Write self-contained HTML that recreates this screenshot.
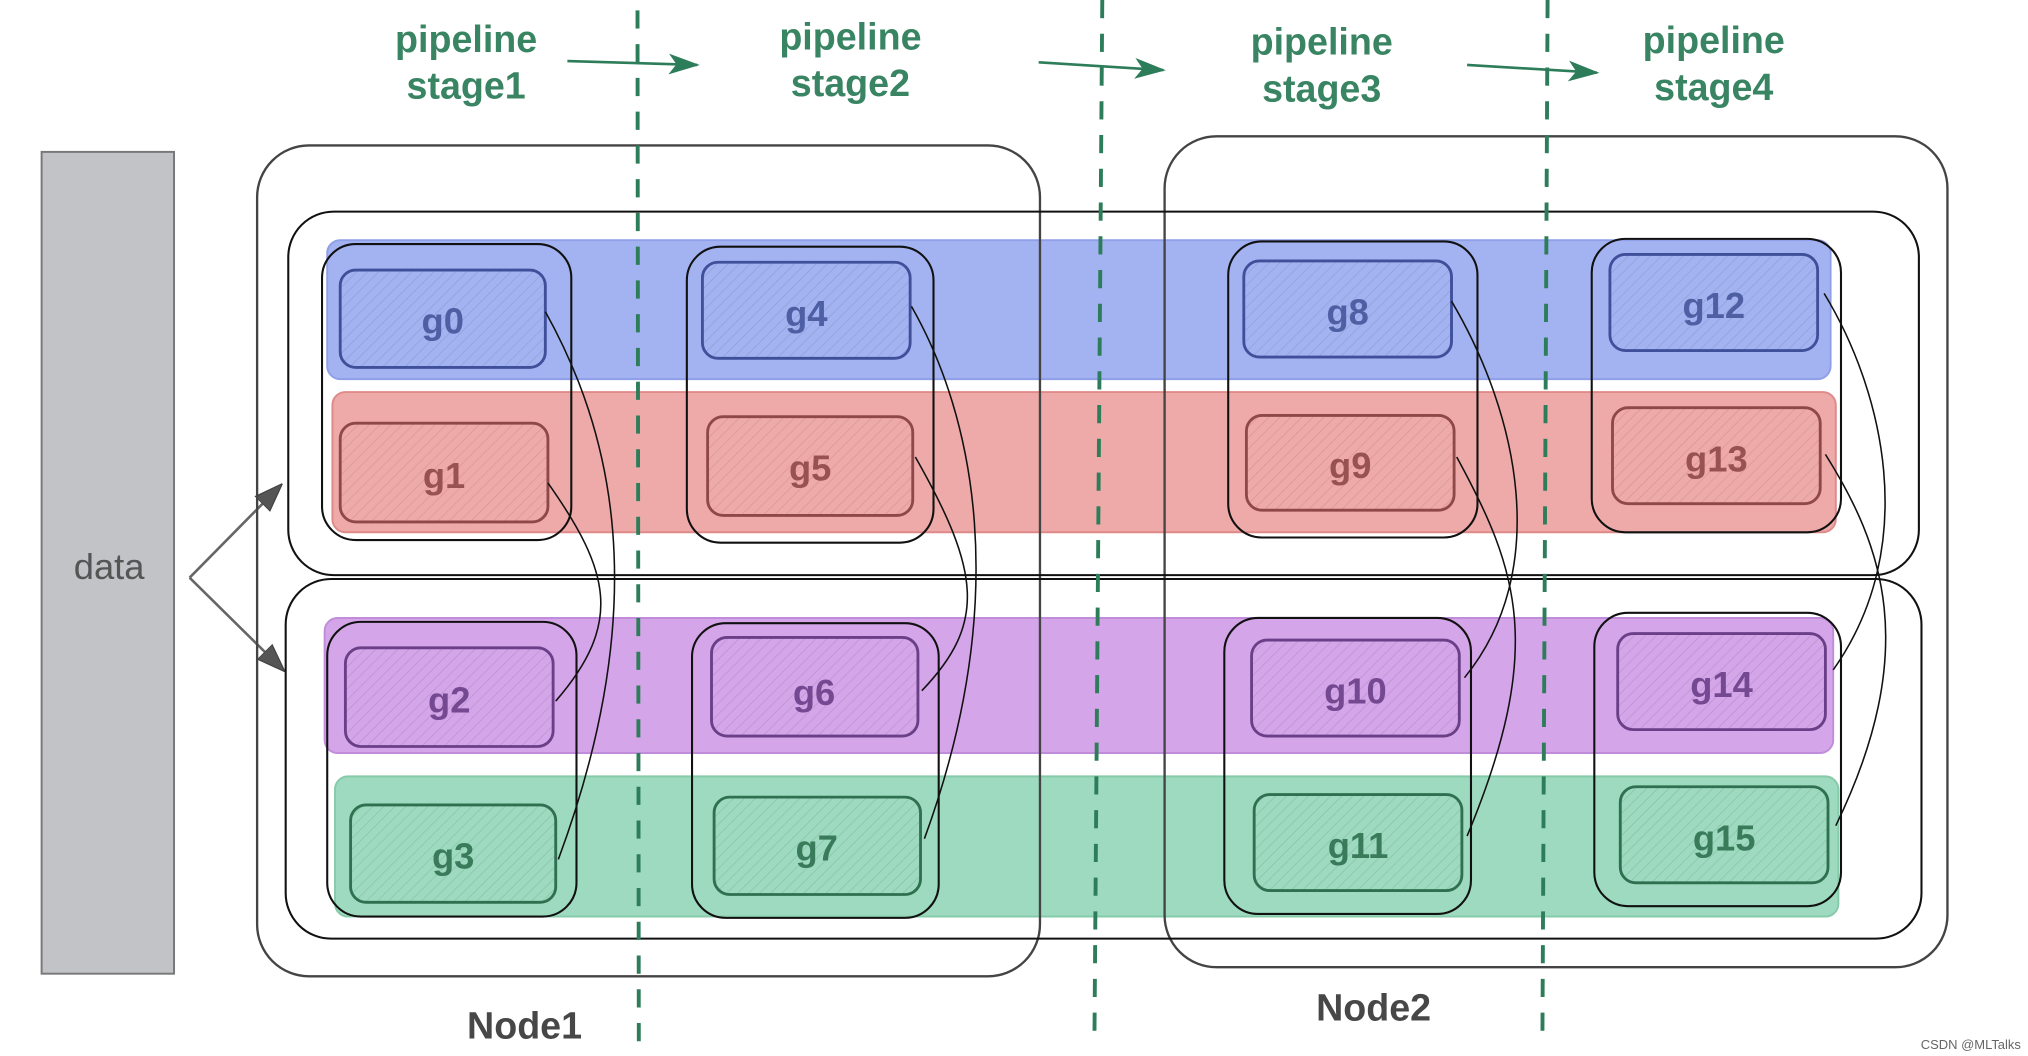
<!DOCTYPE html>
<html><head><meta charset="utf-8"><style>
html,body{margin:0;padding:0;background:#fff;}
svg{display:block;}
text{font-family:"Liberation Sans",sans-serif;}
</style></head><body>
<svg width="2028" height="1056" viewBox="0 0 1562 813.4" xmlns="http://www.w3.org/2000/svg">
<defs>
<pattern id="h" width="6" height="6" patternUnits="userSpaceOnUse" patternTransform="rotate(45)">
<line x1="0" y1="0" x2="0" y2="6" stroke="#000" stroke-opacity="0.12" stroke-width="1"/>
</pattern>
<marker id="ga" markerWidth="24" markerHeight="20" refX="22" refY="10" orient="auto" markerUnits="userSpaceOnUse">
<path d="M0,2 L24,10 L0,18 L6,10 Z" fill="#2e7d5a"/></marker>
<marker id="da" markerWidth="22" markerHeight="22" refX="20" refY="11" orient="auto" markerUnits="userSpaceOnUse">
<path d="M0,3 L22,11 L0,19 Z" fill="#555" stroke="#444"/></marker>
</defs>

<!-- data -->
<rect x="32" y="117" width="102" height="633" fill="#c1c3c7" stroke="#777" stroke-width="1.5"/>
<text x="84" y="446" font-size="28" fill="#555" text-anchor="middle">data</text>
<path d="M146,445 L216,374" stroke="#666" stroke-width="2" fill="none" marker-end="url(#da)"/>
<path d="M146,445 L218,516" stroke="#666" stroke-width="2" fill="none" marker-end="url(#da)"/>

<!-- bands -->
<rect x="252" y="185" width="1158" height="107" rx="10" fill="#a3b3f1" stroke="#8f9fe8" stroke-width="1.5"/>
<rect x="256" y="302" width="1158" height="108" rx="10" fill="#eeaaa9" stroke="#e08989" stroke-width="1.5"/>
<rect x="250" y="476" width="1162" height="104" rx="10" fill="#d4a5e8" stroke="#c18ddb" stroke-width="1.5"/>
<rect x="258" y="598" width="1158" height="108" rx="10" fill="#9ddabf" stroke="#86cba9" stroke-width="1.5"/>

<!-- nodes -->
<rect x="198" y="112" width="603" height="640" rx="40" fill="none" stroke="#444" stroke-width="1.8"/>
<rect x="897" y="105" width="603" height="640" rx="40" fill="none" stroke="#444" stroke-width="1.8"/>
<rect x="222" y="163" width="1256" height="280" rx="35" fill="none" stroke="#111" stroke-width="1.6"/>
<rect x="220" y="446" width="1260" height="277" rx="35" fill="none" stroke="#111" stroke-width="1.6"/>

<!-- gpu boxes -->
<g stroke-width="2.2" fill="url(#h)">
<rect x="262" y="208" width="158" height="75" rx="12" stroke="#3f4f9a"/>
<rect x="262" y="326" width="160" height="76" rx="12" stroke="#8f4848"/>
<rect x="266" y="499" width="160" height="76" rx="12" stroke="#6a3f88"/>
<rect x="270" y="620" width="158" height="75" rx="12" stroke="#2f7050"/>
<rect x="541" y="202" width="160" height="74" rx="12" stroke="#3f4f9a"/>
<rect x="545" y="321" width="158" height="76" rx="12" stroke="#8f4848"/>
<rect x="548" y="491" width="159" height="76" rx="12" stroke="#6a3f88"/>
<rect x="550" y="614" width="159" height="75" rx="12" stroke="#2f7050"/>
<rect x="958" y="201" width="160" height="74" rx="12" stroke="#3f4f9a"/>
<rect x="960" y="320" width="160" height="73" rx="12" stroke="#8f4848"/>
<rect x="964" y="493" width="160" height="74" rx="12" stroke="#6a3f88"/>
<rect x="966" y="612" width="160" height="74" rx="12" stroke="#2f7050"/>
<rect x="1240" y="196" width="160" height="74" rx="12" stroke="#3f4f9a"/>
<rect x="1242" y="314" width="160" height="74" rx="12" stroke="#8f4848"/>
<rect x="1246" y="488" width="160" height="74" rx="12" stroke="#6a3f88"/>
<rect x="1248" y="606" width="160" height="74" rx="12" stroke="#2f7050"/>
</g>
<g font-size="28" text-anchor="middle" font-weight="bold" fill-opacity="0.9">
<text x="341" y="257" fill="#45559a">g0</text>
<text x="342" y="376" fill="#8f4848">g1</text>
<text x="346" y="549" fill="#6a3f88">g2</text>
<text x="349" y="669" fill="#2f7050">g3</text>
<text x="621" y="251" fill="#45559a">g4</text>
<text x="624" y="370" fill="#8f4848">g5</text>
<text x="627" y="543" fill="#6a3f88">g6</text>
<text x="629" y="663" fill="#2f7050">g7</text>
<text x="1038" y="250" fill="#45559a">g8</text>
<text x="1040" y="368" fill="#8f4848">g9</text>
<text x="1044" y="542" fill="#6a3f88">g10</text>
<text x="1046" y="661" fill="#2f7050">g11</text>
<text x="1320" y="245" fill="#45559a">g12</text>
<text x="1322" y="363" fill="#8f4848">g13</text>
<text x="1326" y="537" fill="#6a3f88">g14</text>
<text x="1328" y="655" fill="#2f7050">g15</text>
</g>

<!-- group boxes -->
<g fill="none" stroke="#111" stroke-width="1.6">
<rect x="248" y="188" width="192" height="228" rx="26"/>
<rect x="252" y="479" width="192" height="227" rx="26"/>
<rect x="529" y="190" width="190" height="228" rx="26"/>
<rect x="533" y="480" width="190" height="227" rx="26"/>
<rect x="946" y="186" width="192" height="228" rx="26"/>
<rect x="943" y="476" width="190" height="228" rx="26"/>
<rect x="1226" y="184" width="192" height="226" rx="26"/>
<rect x="1228" y="472" width="190" height="226" rx="26"/>
</g>

<!-- curves -->
<g fill="none" stroke="#111" stroke-width="1.2">
<path d="M420,240 C470,330 505,460 430,662"/>
<path d="M422,372 C470,440 480,480 428,540"/>
<path d="M702,236 C750,320 780,460 712,646"/>
<path d="M705,352 C755,440 760,480 710,532"/>
<path d="M1118,232 C1170,320 1195,440 1128,522"/>
<path d="M1122,352 C1170,440 1190,500 1130,644"/>
<path d="M1405,226 C1450,300 1480,420 1412,516"/>
<path d="M1406,350 C1450,420 1480,500 1414,636"/>
</g>

<!-- dashed stage lines -->
<g stroke="#2e7d5a" stroke-width="3" stroke-dasharray="14,12" fill="none">
<path d="M491,8 L492,802"/>
<path d="M849,0 L843,795"/>
<path d="M1192,0 L1188,805"/>
</g>

<!-- arrows -->
<g stroke="#2e7d5a" stroke-width="2" fill="none">
<path d="M437,47 L537,50" marker-end="url(#ga)"/>
<path d="M800,48 L896,54" marker-end="url(#ga)"/>
<path d="M1130,50 L1230,56" marker-end="url(#ga)"/>
</g>

<g font-size="29" fill="#2e7d5a" text-anchor="middle" font-weight="bold" fill-opacity="0.95">
<text x="359" y="40">pipeline</text><text x="359" y="76">stage1</text>
<text x="655" y="38">pipeline</text><text x="655" y="74">stage2</text>
<text x="1018" y="42">pipeline</text><text x="1018" y="78">stage3</text>
<text x="1320" y="41">pipeline</text><text x="1320" y="77">stage4</text>
</g>
<text x="404" y="800" font-size="29" fill="#333" text-anchor="middle" font-weight="bold" fill-opacity="0.9">Node1</text>
<text x="1058" y="786" font-size="29" fill="#333" text-anchor="middle" font-weight="bold" fill-opacity="0.9">Node2</text>
<text x="1518" y="808" font-size="10" fill="#666" text-anchor="middle">CSDN @MLTalks</text>
</svg>
</body></html>
